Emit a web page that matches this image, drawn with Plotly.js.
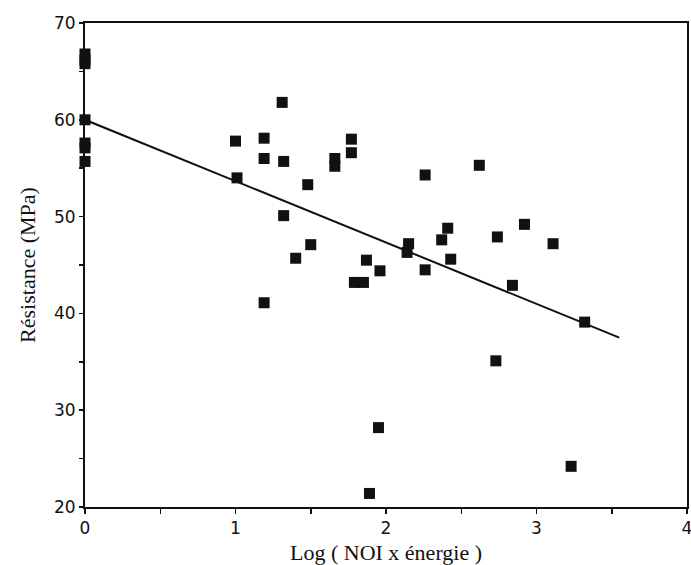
<!DOCTYPE html>
<html>
<head>
<meta charset="utf-8">
<script src="https://cdn.plot.ly/plotly-3.0.1.min.js"></script>
<style>html,body{margin:0;padding:0;background:#fff;}#chart{width:691px;height:565px;}</style>
</head>
<body>
<div id="chart"></div>
<script>
// Observed points: Log(NOI x énergie) vs Résistance (MPa)
const logNOI = [0, 0, 0, 0, 0, 0, 0,
  1.00, 1.01, 1.19, 1.19, 1.19, 1.31, 1.32, 1.32, 1.40, 1.48, 1.50,
  1.66, 1.66, 1.77, 1.77, 1.79, 1.85, 1.87, 1.89, 1.96, 1.95,
  2.15, 2.14, 2.26, 2.26, 2.37, 2.41, 2.43, 2.62, 2.74, 2.73,
  2.84, 2.92, 3.11, 3.23, 3.32];
const resistance = [66.8, 66.2, 65.8, 60.0, 57.6, 57.1, 55.7,
  57.8, 54.0, 58.1, 56.0, 41.1, 61.8, 55.7, 50.1, 45.7, 53.3, 47.1,
  56.0, 55.2, 58.0, 56.6, 43.2, 43.2, 45.5, 21.4, 44.4, 28.2,
  47.2, 46.3, 44.5, 54.3, 47.6, 48.8, 45.6, 55.3, 47.9, 35.1,
  42.9, 49.2, 47.2, 24.2, 39.1];
// Regression line end points
const fitX = [0, 3.55];
const fitY = [60.0, 37.5];

const xTickVals = [0, 1, 2, 3, 4];
const xTickText = ["0", "1", "2", "3", "4"];
const yTickVals = [20, 30, 40, 50, 60, 70];
const yTickText = ["20", "30", "40", "50", "60", "70"];

const traces = [
  {x: logNOI, y: resistance, type: 'scatter', mode: 'markers',
   marker: {symbol: 'square', size: 11, color: '#111'}, cliponaxis: false, showlegend: false},
  {x: fitX, y: fitY, type: 'scatter', mode: 'lines',
   line: {color: '#111', width: 2}, showlegend: false}
];

const tickFont = {family: 'DejaVu Sans', size: 17, color: '#111'};
const layout = {
  width: 691, height: 565,
  margin: {l: 85, r: 4, t: 23, b: 58},
  paper_bgcolor: '#fff', plot_bgcolor: '#fff',
  xaxis: {range: [0, 4], tickvals: xTickVals, ticktext: xTickText,
    showgrid: false, zeroline: false, showline: true, mirror: true,
    linecolor: '#111', linewidth: 2, ticks: 'outside', ticklen: 5, tickwidth: 1.5, tickcolor: '#111',
    minor: {dtick: 0.5, ticks: 'outside', ticklen: 5, tickwidth: 1.5, tickcolor: '#111'},
    tickfont: tickFont, ticklabeloverflow: 'allow',
    title: {text: 'Log ( NOI x énergie )', font: {family: 'Liberation Serif', size: 22, color: '#111'}, standoff: 8}},
  yaxis: {range: [20, 70], tickvals: yTickVals, ticktext: yTickText,
    showgrid: false, zeroline: false, showline: true, mirror: true,
    linecolor: '#111', linewidth: 2, ticks: 'outside', ticklen: 4, tickwidth: 1.5, tickcolor: '#111',
    minor: {dtick: 5, ticks: 'outside', ticklen: 4, tickwidth: 1.5, tickcolor: '#111'},
    tickfont: tickFont, ticklabeloverflow: 'allow',
    title: {text: 'Résistance (MPa)', font: {family: 'Liberation Serif', size: 22, color: '#111'}, standoff: 12}}
};

Plotly.newPlot('chart', traces, layout, {displayModeBar: false, staticPlot: true});
</script>
</body>
</html>
